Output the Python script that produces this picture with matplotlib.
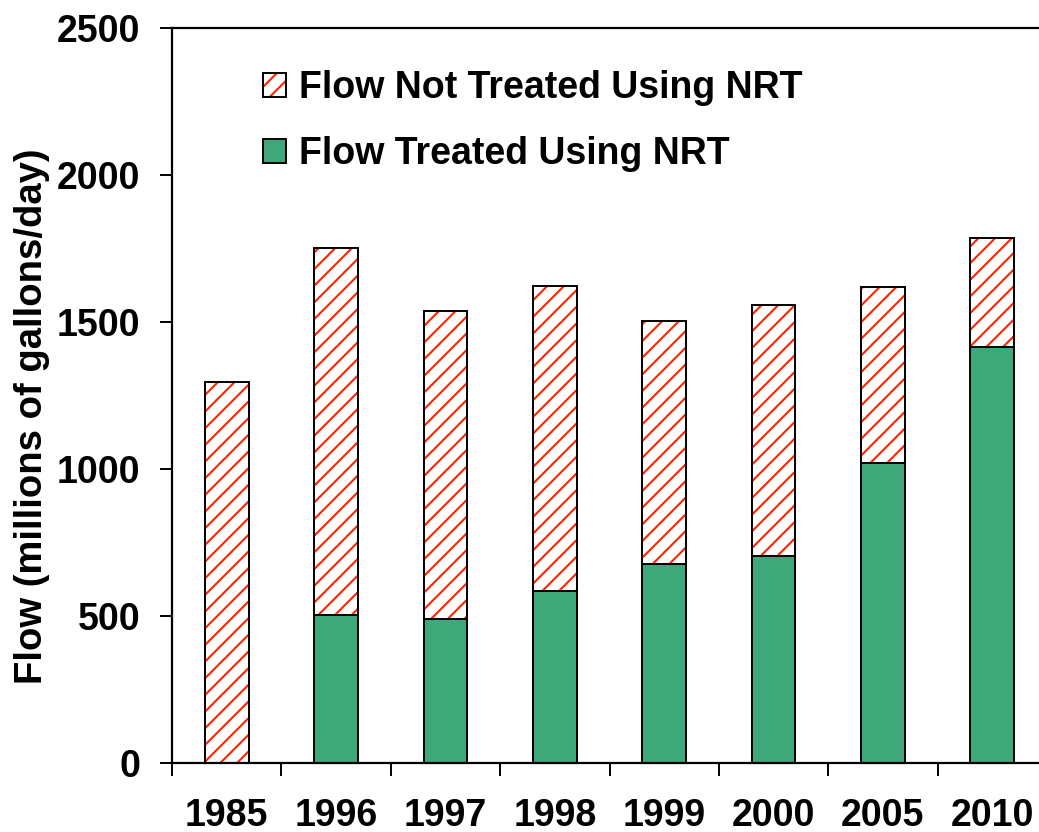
import matplotlib
matplotlib.use("Agg")
import matplotlib.pyplot as plt
import numpy as np

years = ["1985", "1996", "1997", "1998", "1999", "2000", "2005", "2010"]
treated = [0, 503, 490, 585, 677, 704, 1020, 1415]
total = [1296, 1752, 1537, 1622, 1503, 1558, 1619, 1786]
not_treated = [t - a for t, a in zip(total, treated)]
yticks = [0, 500, 1000, 1500, 2000, 2500]

plt.rcParams['font.family'] = ['Liberation Sans', 'DejaVu Sans']
plt.rcParams['font.weight'] = 'bold'
plt.rcParams['hatch.linewidth'] = 1.5

fig = plt.figure(figsize=(10.39, 8.32), dpi=100)
ax = fig.add_axes([172/1039, 69/832, (1047-172)/1039, (763-28)/832])

x = np.arange(len(years))
green = '#3EA87A'
red = '#FF2200'
w = 0.40
ax.bar(x, treated, w, color=green, edgecolor='black', linewidth=1.4,
       label='Flow Treated Using NRT', zorder=2)
# hatch in red (edgecolor drives hatch colour), then black outline on top
ax.bar(x, not_treated, w, bottom=treated, color='white', edgecolor=red,
       hatch='//', linewidth=0, zorder=2)
ax.bar(x, not_treated, w, bottom=treated, fill=False, edgecolor='black',
       linewidth=1.4, zorder=3)

ax.set_xlim(-0.5, len(years) - 0.5)
ax.set_ylim(0, 2500)
ax.set_yticks(yticks)
ax.set_yticklabels([str(v) for v in yticks], fontsize=27, fontweight='bold')
ax.set_xticks(np.arange(len(years) + 1) - 0.5)
ax.set_xticklabels([])
ax.set_xticks(x, minor=True)
ax.set_xticklabels(years, minor=True, fontsize=27, fontweight='bold')
ax.tick_params(axis='x', which='major', direction='out', length=9, width=1.4)
ax.tick_params(axis='x', which='minor', length=0, pad=25)
ax.tick_params(axis='y', direction='out', length=9, width=1.4, pad=14)
for s in ax.spines.values():
    s.set_linewidth(1.6)

ax.set_ylabel('Flow (millions of gallons/day)', fontsize=27.5, fontweight='bold')
ax.yaxis.set_label_coords((50 - 172)/875, (763-416)/735)

from matplotlib.patches import Patch
h_nt = Patch(facecolor='white', edgecolor=red, hatch='//', linewidth=0)
h_nt_edge = Patch(fill=False, edgecolor='black', linewidth=1.4)
h_t = Patch(facecolor=green, edgecolor='black', linewidth=1.4)
fig.legend([(h_nt, h_nt_edge), h_t],
           ['Flow Not Treated Using NRT', 'Flow Treated Using NRT'],
           loc='upper left', bbox_to_anchor=(263/1039, 1 - 70/832),
           frameon=False, prop={'weight': 'bold', 'size': 27},
           handlelength=0.6, handleheight=0.6, handletextpad=0.35,
           labelspacing=0.8, borderpad=0, borderaxespad=0)

fig.savefig('out.png', dpi=100)
